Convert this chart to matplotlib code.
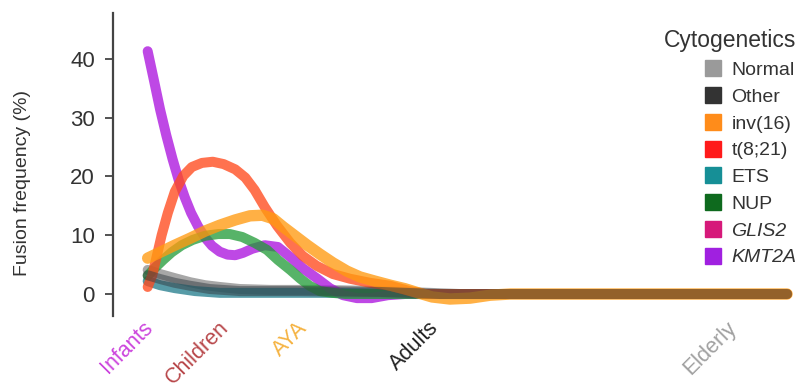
import matplotlib.pyplot as plt
from matplotlib.lines import Line2D

# Age groups on the x axis (position in age units, Infants = 0)
groups = ['Infants', 'Children', 'AYA', 'Adults', 'Elderly']
group_pos = [-0.1, 0.88, 1.89, 3.59, 7.43]
group_colors = ['#cc44dd', '#b8474a', '#f5b342', '#222222', '#a0a0a0']

x_end = 8.22

# Fusion frequency (%) along age for each cytogenetic group
x_kmt2a = [-0.03, 0.05, 0.13, 0.21, 0.29, 0.37, 0.45, 0.53, 0.62, 0.71, 0.80, 0.90,
           1.00, 1.10, 1.20, 1.32, 1.48, 1.65, 1.81, 1.97, 2.15, 2.32, 2.49, 2.67,
           2.86, 3.07, 3.29, x_end]
y_kmt2a = [41.3, 36.4, 31.4, 27.0, 23.0, 19.4, 16.4, 13.8, 11.5, 9.6, 8.2, 7.2,
           6.7, 6.6, 7.0, 7.7, 8.3, 8.0, 6.3, 4.4, 2.7, 1.0, -0.2, -0.7,
           -0.7, -0.2, 0.0, 0.0]

x_t821 = [-0.03, 0.03, 0.09, 0.15, 0.23, 0.32, 0.43, 0.54, 0.67, 0.81, 0.95, 1.10,
          1.23, 1.35, 1.48, 1.64, 1.81, 1.97, 2.15, 2.36, 2.58, 2.84, 3.10, 3.35,
          3.55, x_end]
y_t821 = [1.2, 3.2, 6.6, 10.0, 13.8, 17.4, 20.1, 21.6, 22.3, 22.5, 22.1, 21.2,
          19.8, 17.7, 14.8, 11.6, 8.7, 6.5, 4.8, 3.4, 2.6, 1.9, 1.4, 0.5,
          0.0, 0.0]

x_inv16 = [-0.03, 0.13, 0.32, 0.52, 0.71, 0.90, 1.10, 1.29, 1.45, 1.59, 1.72, 1.87,
           2.03, 2.19, 2.36, 2.54, 2.71, 2.90, 3.10, 3.29, 3.46, 3.64, 3.87, 4.13,
           4.39, 4.65, x_end]
y_inv16 = [6.1, 7.1, 8.3, 9.5, 10.7, 11.7, 12.6, 13.3, 13.4, 12.8, 11.4, 9.9,
           8.3, 6.8, 5.3, 3.9, 2.9, 2.2, 1.5, 0.9, 0.2, -0.5, -0.85, -0.7,
           -0.2, 0.0, 0.0]

x_nup = [-0.03, 0.06, 0.17, 0.28, 0.41, 0.55, 0.71, 0.88, 1.03, 1.19, 1.35, 1.51,
         1.65, 1.81, 1.94, 2.06, 2.19, 2.35, 2.52, x_end]
y_nup = [3.1, 4.4, 5.8, 7.1, 8.3, 9.2, 9.9, 10.2, 10.2, 9.7, 8.7, 7.5,
         5.8, 4.1, 2.6, 1.4, 0.5, 0.2, 0.0, 0.0]

x_normal = [-0.03, 0.13, 0.32, 0.52, 0.71, 0.90, 1.16, 1.55, 2.19, 2.97, 3.61, 4.00, x_end]
y_normal = [4.1, 3.4, 2.7, 2.0, 1.5, 1.2, 0.85, 0.7, 0.7, 0.5, 0.2, 0.0, 0.0]

x_other = [-0.03, 0.13, 0.32, 0.52, 0.77, 1.16, 1.94, 2.97, 3.74, x_end]
y_other = [3.2, 2.55, 1.9, 1.4, 0.85, 0.5, 0.5, 0.35, 0.0, 0.0]

x_ets = [-0.03, 0.13, 0.32, 0.58, 0.90, 1.42, 2.32, 3.48, x_end]
y_ets = [2.2, 1.5, 1.0, 0.5, 0.2, 0.2, 0.2, 0.0, 0.0]

legend_labels = ['Normal', 'Other', 'inv(16)', 't(8;21)', 'ETS', 'NUP', 'GLIS2', 'KMT2A']
legend_colors = ['#9a9a9a', '#333333', '#ff8c1a', '#ff1a1a', '#168f96', '#0e6a1e',
                 '#d6197a', '#a020e0']

plt.rcParams['font.family'] = ['Liberation Sans', 'DejaVu Sans']

fig = plt.figure(figsize=(8.08, 3.92), dpi=100)
ax = fig.add_axes([113 / 808, 76 / 392, 687 / 808, 303 / 392])

lw = 7.2
style = dict(solid_capstyle='round', solid_joinstyle='round')
ax.plot(x_normal, y_normal, color='#8a8a8a', lw=lw, alpha=0.75, **style)
ax.plot(x_ets, y_ets, color='#1f7a8a', lw=lw, alpha=0.75, **style)
ax.plot(x_kmt2a, y_kmt2a, color='#b020e0', lw=lw, alpha=0.82, **style)
ax.plot(x_nup, y_nup, color='#1f9a35', lw=lw, alpha=0.75, **style)
ax.plot(x_t821, y_t821, color='#ff4a1e', lw=lw, alpha=0.78, **style)
ax.plot(x_inv16, y_inv16, color='#ff9a10', lw=8.2, alpha=0.78, **style)
ax.plot(x_other, y_other, color='#333a40', lw=lw, alpha=0.5, **style)

ax.set_xlim((113 - 150) / 77.5, (800 - 150) / 77.5)
ax.set_ylim(-3.74, 47.8)

for s in ['top', 'right', 'bottom']:
    ax.spines[s].set_visible(False)
ax.spines['left'].set_color('#444444')
ax.spines['left'].set_linewidth(1.6)

ax.set_yticks([0, 10, 20, 30, 40])
ax.tick_params(axis='y', length=6, width=1.3, color='#444444', pad=7,
               labelsize=16, labelcolor='#333333')
ax.set_xticks(group_pos)
ax.set_xticklabels(groups, rotation=45, ha='right', va='top', rotation_mode='anchor',
                   fontsize=15.5)
ax.tick_params(axis='x', length=0, pad=1)
for lab, c in zip(ax.get_xticklabels(), group_colors):
    lab.set_color(c)

ax.set_ylabel('Fusion frequency (%)', fontsize=14, color='#333333')
ax.yaxis.set_label_coords(-0.12, 0.44)

handles = [Line2D([], [], ls='none', marker='s', markersize=12, color=c) for c in legend_colors]
leg = fig.legend(handles, legend_labels, title='Cytogenetics', loc='upper right',
                 bbox_to_anchor=(1.0, 0.955), frameon=False, fontsize=14,
                 title_fontsize=16.5, handlelength=0.9, handletextpad=0.5,
                 labelspacing=0.47, borderpad=0.1, alignment='right')
for t in leg.get_texts():
    t.set_color('#333333')
    if t.get_text() in ('GLIS2', 'KMT2A'):
        t.set_fontstyle('italic')
leg.get_title().set_color('#333333')

fig.savefig('out.png', dpi=100)
